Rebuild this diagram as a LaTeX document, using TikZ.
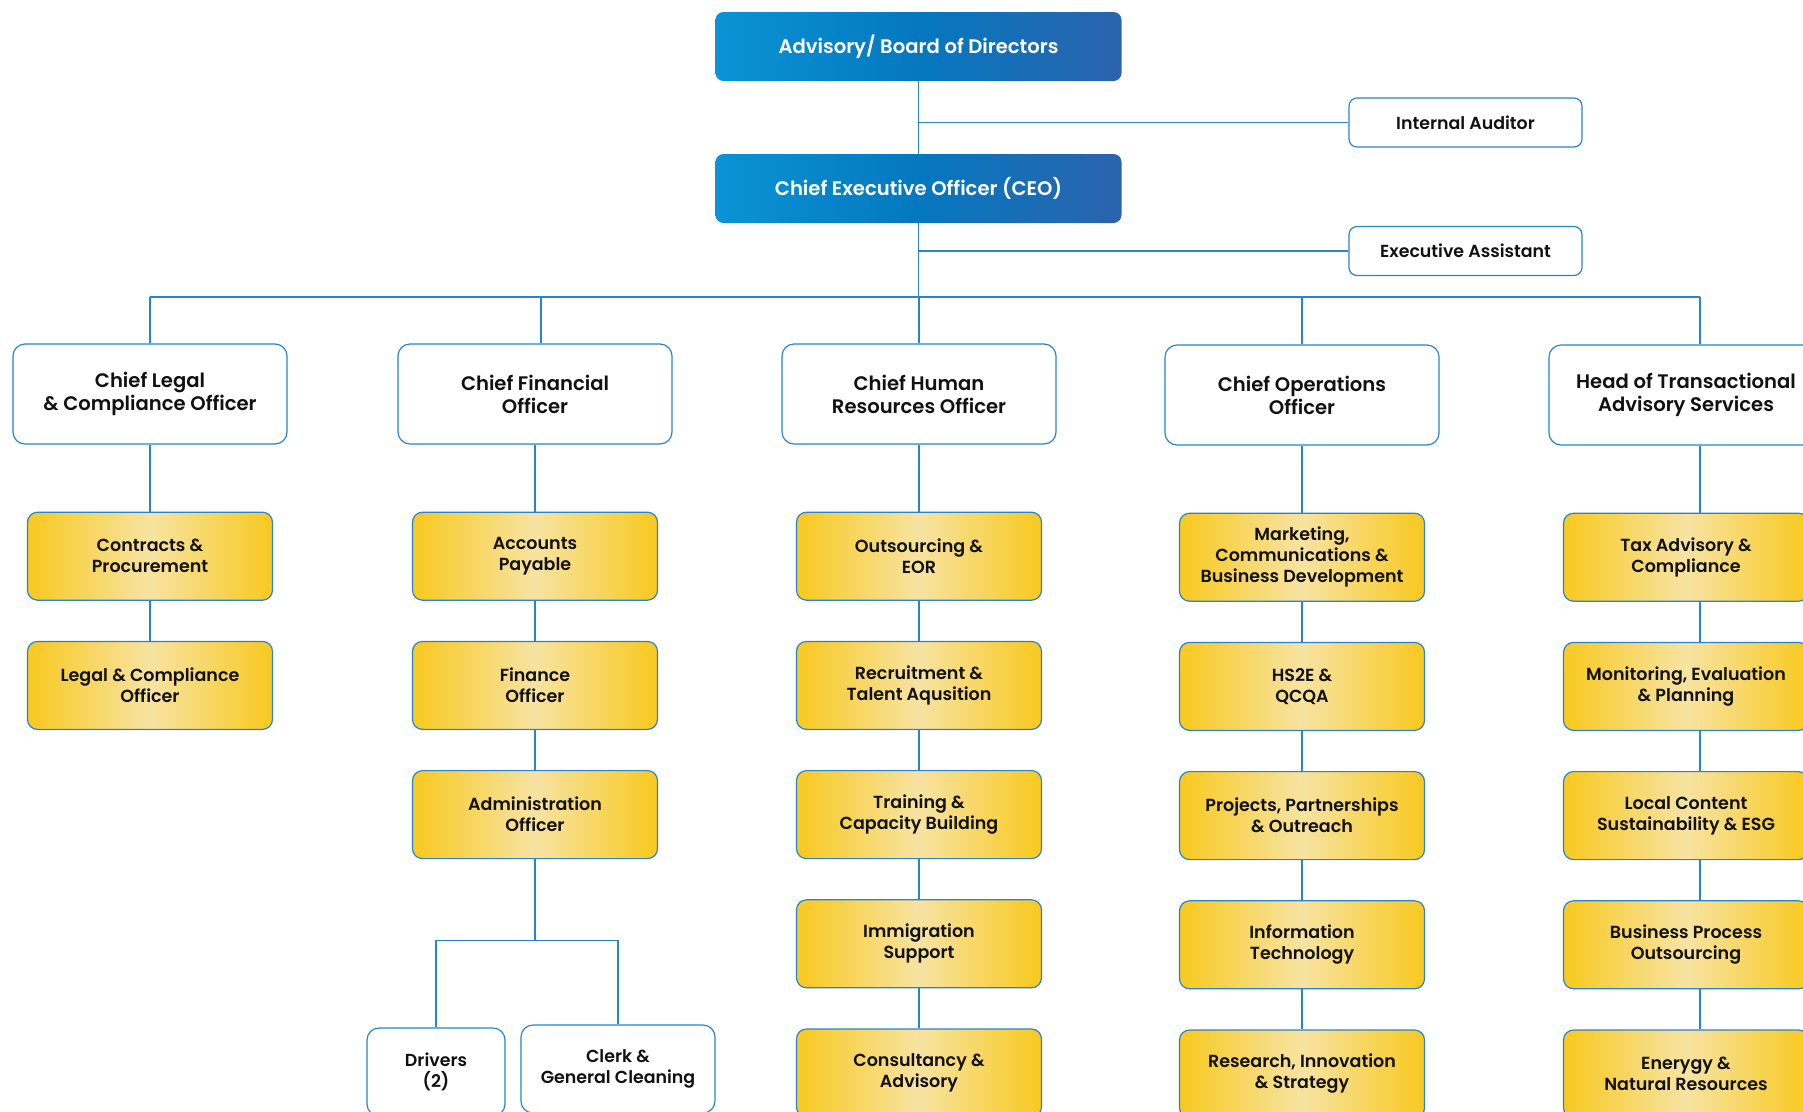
\documentclass[tikz,border=0pt]{standalone}
\usepackage{fontspec}
\setmainfont{Poppins}[BoldFont={Poppins SemiBold}]
\usetikzlibrary{positioning}
\definecolor{orgline}{HTML}{2A84CC}
\definecolor{orgblueL}{HTML}{0A93D6}
\definecolor{orgblueM}{HTML}{0478BF}
\definecolor{orgblueR}{HTML}{2C63AE}
\definecolor{orgyellow}{HTML}{F8C91F}
\definecolor{orgcream}{HTML}{F7E3A2}
\definecolor{orgtext}{HTML}{111111}

\begin{document}
\begin{tikzpicture}[x=1pt, y=-1pt,
  topbox/.style={rounded corners=8pt, left color=orgblueL, right color=orgblueR,
                 middle color=orgblueM, text=white, minimum width=406pt,
                 minimum height=69pt, font=\fontsize{19.6}{23}\selectfont\bfseries},
  sidebox/.style={draw=orgline, line width=1.2pt, rounded corners=8pt, fill=white,
                  minimum width=233pt, minimum height=49pt, text=orgtext,
                  font=\fontsize{17.4}{20}\selectfont\bfseries},
  headbox/.style={draw=orgline, line width=1.2pt, rounded corners=12pt, fill=white,
                  minimum width=274pt, minimum height=100pt, align=center, text=orgtext,
                  font=\fontsize{19.6}{23}\selectfont\bfseries},
  unitbox/.style={draw=orgline, line width=1.2pt, rounded corners=10pt,
                  left color=orgyellow, right color=orgyellow, middle color=orgcream,
                  minimum width=245pt, minimum height=88pt, align=center, text=orgtext,
                  font=\fontsize{17.5}{21}\selectfont\bfseries},
  staffbox/.style={draw=orgline, line width=1.2pt, rounded corners=12pt, fill=white,
                   minimum height=88pt, align=center, text=orgtext,
                   font=\fontsize{17.4}{21}\selectfont\bfseries},
  conn/.style={draw=orgline, line width=1.4pt},
  node distance=40pt
]
\useasboundingbox (0,0) rectangle (1803,1111);
\clip (0,0) rectangle (1803,1111);
\fill[white] (0,0) rectangle (1803,1111);

% board and ceo
\node[topbox] (board) at (918.5,46.5) {Advisory/ Board of Directors};
\node[topbox] (ceo) at (918.5,188.5) {Chief Executive Officer (CEO)};
\node[sidebox] (auditor) at (1465.5,122.5) {Internal Auditor};
\node[sidebox] (assist) at (1465.5,251) {Executive Assistant};
\draw[conn] (board.south) -- (ceo.north);
\draw[conn] (board.south |- auditor.west) -- (auditor.west);
\draw[conn] (ceo.south |- assist.west) -- (assist.west);

% heads
\node[headbox] (clo) at (150,394) {Chief Legal\\\& Compliance Officer};
\node[headbox] (cfo) at (535,394) {Chief Financial\\Officer};
\node[headbox] (chro) at (919,394) {Chief Human\\Resources Officer};
\node[headbox] (coo) at (1302,395) {Chief Operations\\Officer};
\node[headbox] (tas) at (1686,395) {Head of Transactional\\Advisory Services};
\coordinate (bus) at (918.5,297);
\draw[conn] (ceo.south) -- (bus);
\draw[conn] (clo.north |- bus) -- ([xshift=14pt]tas.north |- bus);
\foreach \h in {clo,chro,coo}
  \draw[conn] (\h.north) -- (\h.north |- bus);
\draw[conn] ([xshift=6pt]cfo.north) -- ([xshift=6pt]cfo.north |- bus);
\draw[conn] ([xshift=14pt]tas.north) -- ([xshift=14pt]tas.north |- bus);

% legal
\node[unitbox, below=67pt of clo] (contracts) {Contracts \&\\Procurement};
\node[unitbox, below=of contracts] (legalofc) {Legal \& Compliance\\Officer};
\draw[conn] (clo) -- (contracts);
\draw[conn] (contracts) -- (legalofc);

% finance
\node[unitbox, below=67pt of cfo] (payable) {Accounts\\Payable};
\node[unitbox, below=of payable] (finofc) {Finance\\Officer};
\node[unitbox, below=of finofc] (admin) {Administration\\Officer};
\draw[conn] (cfo) -- (payable);
\draw[conn] (payable) -- (finofc);
\draw[conn] (finofc) -- (admin);
\node[staffbox, minimum width=138pt] (drivers) at (436,1072) {Drivers\\(2)};
\node[staffbox, minimum width=194pt] (clerk) at (618,1069) {Clerk \&\\General Cleaning};
\draw[conn] (admin.south) -- ++(0,81) coordinate (split);
\draw[conn] (drivers.north) |- (split) -| (clerk.north);

% human resources
\node[unitbox, below=67pt of chro] (outsrc) {Outsourcing \&\\EOR};
\node[unitbox, below=of outsrc] (recruit) {Recruitment \&\\Talent Aqusition};
\node[unitbox, below=of recruit] (training) {Training \&\\Capacity Building};
\node[unitbox, below=of training] (immig) {Immigration\\Support};
\node[unitbox, below=of immig] (consult) {Consultancy \&\\Advisory};
\draw[conn] (chro) -- (outsrc);
\draw[conn] (outsrc) -- (recruit);
\draw[conn] (recruit) -- (training);
\draw[conn] (training) -- (immig);
\draw[conn] (immig) -- (consult);

% operations
\node[unitbox, below=67pt of coo] (market) {Marketing,\\Communications \&\\Business Development};
\node[unitbox, below=of market] (hsqa) {HS2E \&\\QCQA};
\node[unitbox, below=of hsqa] (projects) {Projects, Partnerships\\\& Outreach};
\node[unitbox, below=of projects] (infotech) {Information\\Technology};
\node[unitbox, below=of infotech] (research) {Research, Innovation\\\& Strategy};
\draw[conn] (coo) -- (market);
\draw[conn] (market) -- (hsqa);
\draw[conn] (hsqa) -- (projects);
\draw[conn] (projects) -- (infotech);
\draw[conn] (infotech) -- (research);

% transactional advisory
\node[unitbox, below=67pt of tas] (tax) {Tax Advisory \&\\Compliance};
\node[unitbox, below=of tax] (monitor) {Monitoring, Evaluation\\\& Planning};
\node[unitbox, below=of monitor] (local) {Local Content\\Sustainability \& ESG};
\node[unitbox, below=of local] (bpo) {Business Process\\Outsourcing};
\node[unitbox, below=of bpo] (energy) {Enerygy \&\\Natural Resources};
\foreach \a/\b in {tas/tax,tax/monitor,monitor/local,local/bpo,bpo/energy}
  \draw[conn] ([xshift=14pt]\a.south) -- ([xshift=14pt]\b.north);
\end{tikzpicture}
\end{document}
